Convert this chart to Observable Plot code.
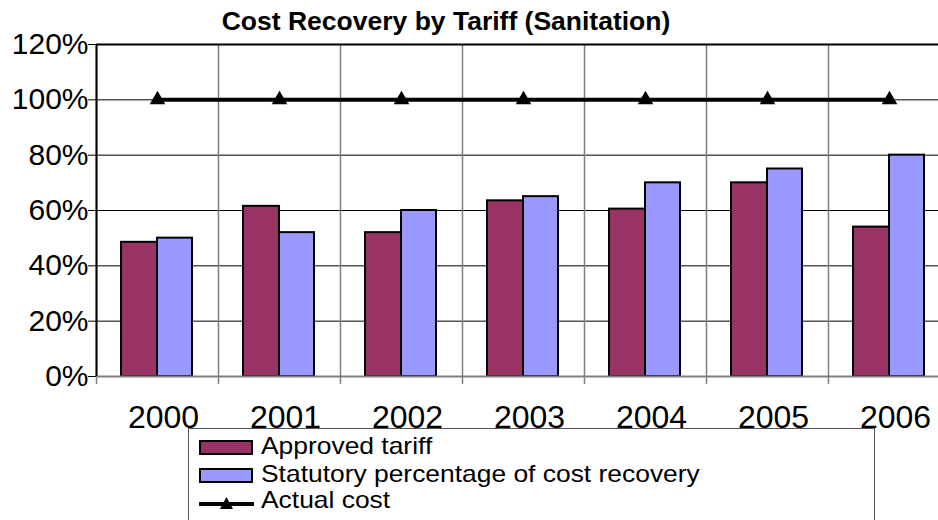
<!DOCTYPE html>
<html>
<head>
<meta charset="utf-8">
<script src="https://cdn.jsdelivr.net/npm/d3@7"></script>
<script src="https://cdn.jsdelivr.net/npm/@observablehq/plot@0.6"></script>
<style>
  html, body { margin: 0; padding: 0; background: #fff; overflow: hidden; width: 938px; height: 520px; }
  body { position: relative; font-family: "Liberation Sans", Arial, sans-serif; color: #000; }
  #chart { position: absolute; left: 0; top: 0; width: 950px; }
  #chart svg { max-width: none !important; }
  #title { position: absolute; left: 0; width: 892px; top: 9px; text-align: center; font-weight: bold; font-size: 25px; line-height: 25px; transform: scaleX(1.06); white-space: nowrap; }
  #legend { position: absolute; left: 188px; top: 428px; width: 685px; height: 120px; border: 1px solid #555; background: #fff; }
  .sw { position: absolute; box-sizing: border-box; border: 2px solid #000; }
  .lt { position: absolute; font-size: 24px; line-height: 24px; white-space: nowrap; transform: scaleX(1.1); transform-origin: left center; }
</style>
</head>
<body>
<div id="chart"></div>
<div id="title">Cost Recovery by Tariff (Sanitation)</div>
<div id="legend"></div>
<script>
const years = ["2000", "2001", "2002", "2003", "2004", "2005", "2006"];
const approvedTariff = [0.485, 0.615, 0.52, 0.635, 0.605, 0.70, 0.54];
const statutoryRecovery = [0.50, 0.52, 0.60, 0.65, 0.70, 0.75, 0.80];
const actualCost = [1, 1, 1, 1, 1, 1, 1];
const yTicks = [0, 0.2, 0.4, 0.6, 0.8, 1.0, 1.2];
const seriesNames = ["Approved tariff", "Statutory percentage of cost recovery", "Actual cost"];
const seriesColors = ["#993366", "#9999FF", "#000000"];

const rows = years.map((year, i) => ({
  year,
  approved: approvedTariff[i],
  statutory: statutoryRecovery[i],
  actual: actualCost[i]
}));

const W = 950, ML = 96;
const band = (W - ML) / years.length;

const chart = Plot.plot({
  width: W,
  height: 520,
  marginLeft: ML,
  marginRight: 0,
  marginTop: 44,
  marginBottom: 144,
  style: { fontFamily: "'Liberation Sans', Arial, sans-serif", fontSize: "30px", color: "#000", background: "#fff", overflow: "visible", maxWidth: "none" },
  x: { type: "band", domain: years, padding: 0, tickSize: 0, tickPadding: 29, label: null },
  y: { domain: [0, 1.2], ticks: yTicks, tickFormat: d3.format(".0%"), tickSize: 8, tickPadding: 0, label: null },
  marks: [
    Plot.ruleY(yTicks, { stroke: "#000", strokeWidth: 1 }),
    Plot.ruleX(years, { x: d => d, dx: -band / 2, stroke: "#808080", strokeWidth: 1.5, insetBottom: -8 }),
    Plot.barY(rows, { x: "year", y: "approved", fill: seriesColors[0], stroke: "#000", strokeWidth: 2, insetLeft: 25, insetRight: 61 }),
    Plot.barY(rows, { x: "year", y: "statutory", fill: seriesColors[1], stroke: "#000", strokeWidth: 2, insetLeft: 61, insetRight: 26 }),
    Plot.ruleY([0], { stroke: "#808080", strokeWidth: 2 }),
    Plot.ruleY([1.2], { stroke: "#000", strokeWidth: 2 }),
    Plot.ruleX([years[0]], { x: d => d, dx: -band / 2, stroke: "#000", strokeWidth: 2 }),
    Plot.line(rows, { x: "year", y: "actual", stroke: seriesColors[2], strokeWidth: 4 }),
    Plot.dot(rows, { x: "year", y: "actual", symbol: "triangle", fill: "#000", r: 5.8 })
  ]
});
document.getElementById("chart").appendChild(chart);

// x tick labels: slightly larger and nudged right like the original
chart.querySelectorAll('[aria-label="x-axis"] text, [aria-label="x-axis tick label"] text').forEach(t => {
  t.setAttribute("dx", "6");
  t.style.fontSize = "32px";
});

// legend
const legend = document.getElementById("legend");
const L = 188, T = 428;
function add(html) { legend.insertAdjacentHTML("beforeend", html); }
const rowsY = [440, 468];
[0, 1].forEach(i => {
  add(`<div class="sw" style="left:${199 - L - 1}px;top:${rowsY[i] - T - 1}px;width:54px;height:15px;background:${seriesColors[i]}"></div>`);
});
add(`<svg style="position:absolute;left:${199 - L - 1}px;top:${495 - T - 1}px" width="56" height="18"><line x1="0" y1="9" x2="55" y2="9" stroke="#000" stroke-width="4"/><path d="M27.5,2 L34,14 L21,14 Z" fill="#000"/></svg>`);
const baselines = [454, 482.7, 508];
seriesNames.forEach((name, i) => {
  add(`<div class="lt" style="left:${261 - L - 1}px;top:${baselines[i] - 20.3 - T - 1}px">${name}</div>`);
});
</script>
</body>
</html>
